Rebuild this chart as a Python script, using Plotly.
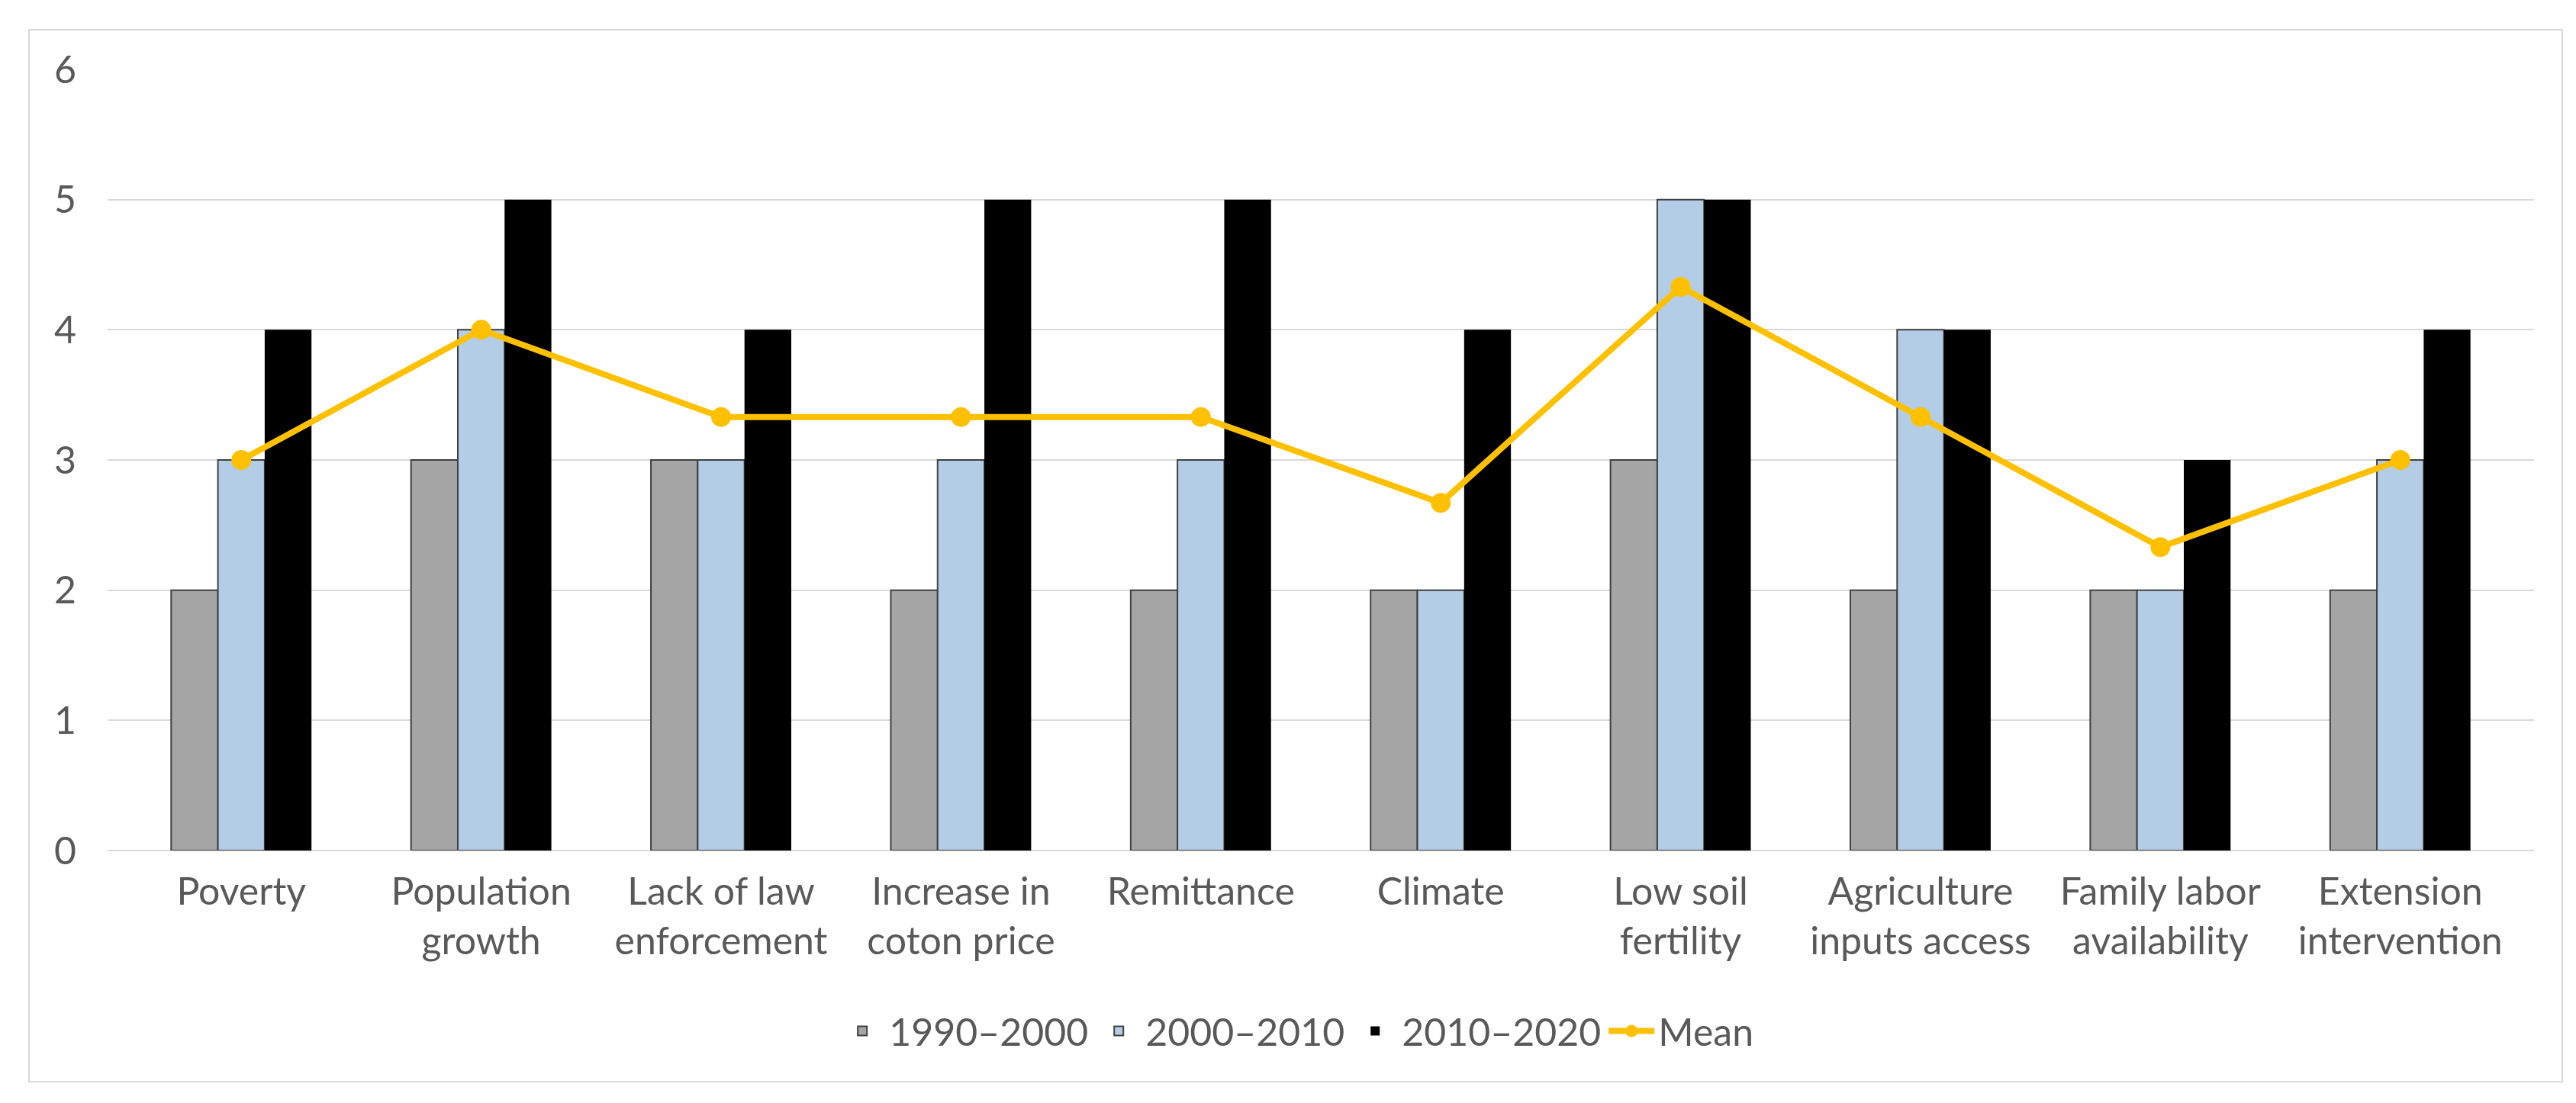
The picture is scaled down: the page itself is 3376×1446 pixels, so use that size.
import plotly.graph_objects as go

categories = ["Poverty", "Population<br>growth", "Lack of law<br>enforcement", "Increase in<br>coton price",
              "Remittance", "Climate", "Low soil<br>fertility", "Agriculture<br>inputs access",
              "Family labor<br>availability", "Extension<br>intervention"]
s1990_2000 = [2, 3, 3, 2, 2, 2, 3, 2, 2, 2]
s2000_2010 = [3, 4, 3, 3, 3, 2, 5, 4, 2, 3]
s2010_2020 = [4, 5, 4, 5, 5, 4, 5, 4, 3, 4]
mean_vals = [3, 4, 3.33, 3.33, 3.33, 2.67, 4.33, 3.33, 2.33, 3]
y_ticks = [0, 1, 2, 3, 4, 5, 6]

W, H = 3376, 1446
L, R, T, B = 133, 63, 83, 339

fig = go.Figure()
fig.add_trace(go.Bar(name="1990–2000", x=categories, y=s1990_2000,
                     marker=dict(color="#A5A5A5", line=dict(color="#404040", width=2))))
fig.add_trace(go.Bar(name="2000–2010", x=categories, y=s2000_2010,
                     marker=dict(color="#B4CDE6", line=dict(color="#404040", width=2))))
fig.add_trace(go.Bar(name="2010–2020", x=categories, y=s2010_2020,
                     marker=dict(color="#000000", line=dict(color="#000000", width=0))))
fig.add_trace(go.Scatter(name="Mean", x=categories, y=mean_vals, mode="lines+markers",
                         line=dict(color="#FFC000", width=8),
                         marker=dict(color="#FFC000", size=26)))

pw = W - L - R
ph = H - T - B
fig.add_shape(type="rect", xref="paper", yref="paper",
              x0=(30 - L) / pw, x1=(3350 - L) / pw,
              y0=-(1410 - (H - B)) / ph, y1=((H - B) - 31) / ph,
              line=dict(color="#D9D9D9", width=2), fillcolor="rgba(0,0,0,0)", layer="below")

fig.update_layout(
    width=W, height=H,
    margin=dict(l=L, r=R, t=T, b=B),
    paper_bgcolor="white", plot_bgcolor="white",
    font=dict(family="Lato, Open Sans, sans-serif", size=50, color="#595959"),
    barmode="group", bargap=0.415, bargroupgap=0,
    showlegend=True,
    legend=dict(orientation="h", x=0.49, xanchor="center", y=-0.231, yanchor="middle",
                font=dict(size=50, color="#595959"), itemwidth=60, traceorder="normal"),
)
fig.update_yaxes(range=[0, 6], tickvals=y_ticks, showgrid=True, gridcolor="#D9D9D9", gridwidth=2,
                 zeroline=True, zerolinecolor="#D9D9D9", zerolinewidth=2,
                 showline=False, ticks="", ticklabelstandoff=40, tickfont=dict(size=50))
fig.update_xaxes(showline=False, ticks="", tickfont=dict(size=50), ticklabelstandoff=20)

fig.write_html("out.html")
